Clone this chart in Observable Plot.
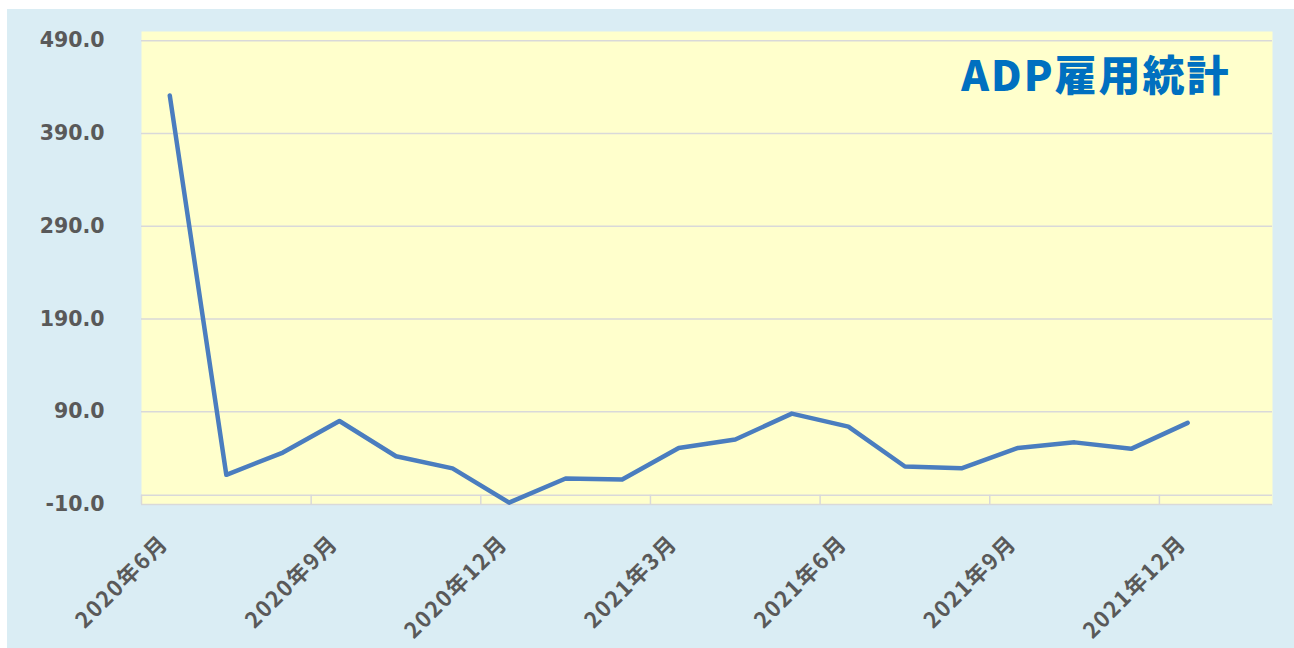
<!DOCTYPE html>
<html><head><meta charset="utf-8">
<script src="https://cdn.jsdelivr.net/npm/d3@7"></script>
<script src="https://cdn.jsdelivr.net/npm/@observablehq/plot@0.6"></script>
<style>
body{margin:0;background:#fff;}
#bg{position:absolute;left:7px;top:9px;width:1287px;height:639px;background:#DAEDF4;}
#chart{position:absolute;left:0;top:0;}
g[aria-label="x-axis tick label"] text{letter-spacing:1.6px;}
g[aria-label="text"] text{letter-spacing:2px;}
</style></head><body><div id="bg"></div><div id="chart"></div>
<script>
const months = ["2020年6月","2020年7月","2020年8月","2020年9月","2020年10月","2020年11月","2020年12月",
  "2021年1月","2021年2月","2021年3月","2021年4月","2021年5月","2021年6月","2021年7月","2021年8月",
  "2021年9月","2021年10月","2021年11月","2021年12月","2022年1月"];
const values = [431, 22, 46, 80, 42, 29, -8, 18, 17, 51, 60, 88, 74, 31, 29, 51, 57, 50, 78];
const yTicks = [-10, 90, 190, 290, 390, 490];
const labelEvery = 3;
const title = "ADP雇用統計";

const data = values.map((v, i) => ({i, v}));
const xTicks = months.map((m, i) => i).filter(i => i % labelEvery === 0);

const chart = Plot.plot({
  width: 1294, height: 648,
  marginLeft: 141, marginRight: 22, marginTop: 31, marginBottom: 144,
  style: {background: "transparent"},
  x: {type: "linear", domain: [0, months.length], axis: null},
  y: {domain: [yTicks[0], 500], axis: null},
  marks: [
    Plot.frame({fill: "#FFFFCC", stroke: null}),
    Plot.gridY(yTicks, {stroke: "#D9D9D9", strokeOpacity: 1, strokeWidth: 1.5}),
    Plot.ruleY([0], {stroke: "#D9D9D9", strokeWidth: 1.5}),
    Plot.ruleX(xTicks, {y1: yTicks[0], y2: 0, stroke: "#D9D9D9", strokeWidth: 1.5}),
    Plot.axisY(yTicks, {tickSize: 0, tickPadding: 37, tickFormat: d => d.toFixed(1), label: null,
      fontSize: 20.5, fontWeight: "bold", fill: "#595959", fontFamily: "DejaVu Sans"}),
    Plot.axisX(xTicks.map(i => i + 0.5), {tickSize: 0, tickPadding: 35, dx: -5, tickRotate: -45, label: null,
      tickFormat: d => months[Math.round(d - 0.5)],
      fontSize: 22, fontWeight: "bold", fill: "#595959", fontFamily: "Noto Sans CJK JP"}),
    Plot.line(data, {x: d => d.i + 0.5, y: "v", stroke: "#4A7DBF", strokeWidth: 4.5,
      strokeLinejoin: "round", strokeLinecap: "round"}),
    Plot.text([title], {frameAnchor: "top-right", dx: -42, dy: 46, text: d => d,
      fontSize: 42, fontWeight: 900, fill: "#0070C0", fontFamily: "Noto Sans CJK JP",
      textAnchor: "end", lineAnchor: "middle"})
  ]
});
document.getElementById("chart").appendChild(chart);
</script></body></html>
